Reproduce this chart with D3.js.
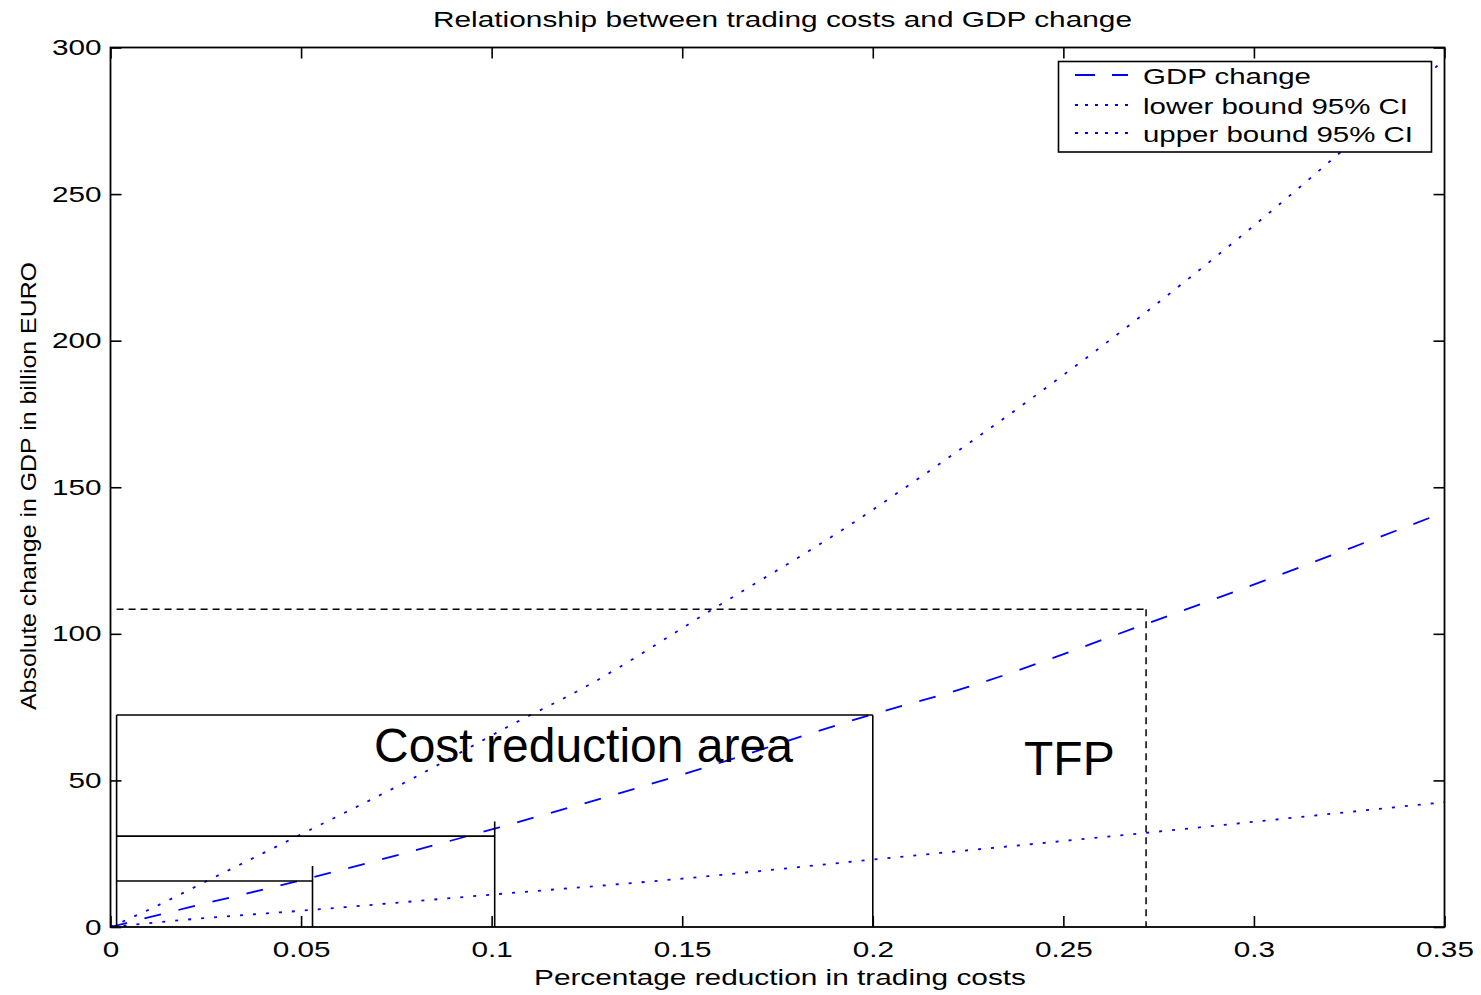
<!DOCTYPE html>
<html><head><meta charset="utf-8">
<script src="https://cdn.jsdelivr.net/npm/d3@7"></script>
<style>body{margin:0;background:#fff} svg{display:block} text{font-family:"Liberation Sans",Arial,Helvetica,sans-serif}</style>
</head><body><svg id="c" width="1481" height="995"></svg>
<script>
// ---- data ----
const titleText = "Relationship between trading costs and GDP change";
const xLabelText = "Percentage reduction  in trading costs";
const yLabelText = "Absolute change in GDP in billion EURO";
const xTicks = [0, 0.05, 0.1, 0.15, 0.2, 0.25, 0.3, 0.35];
const xTickLabels = ["0", "0.05", "0.1", "0.15", "0.2", "0.25", "0.3", "0.35"];
const yTicks = [0, 50, 100, 150, 200, 250, 300];
const yTickLabels = ["0", "50", "100", "150", "200", "250", "300"];
const seriesNames = ["GDP change", "lower bound 95% CI", "upper bound 95% CI"];
const gdpX = [0, 0.02, 0.048, 0.102, 0.15, 0.1993, 0.2248, 0.2694, 0.2868, 0.35];
const gdpY = [0, 6.5, 15.3, 34, 52, 72.3, 81.8, 102.3, 110.5, 141.5];
const lowerX = [0, 0.0216, 0.0496, 0.0987, 0.15, 0.2, 0.2707, 0.312, 0.35];
const lowerY = [0, 2.7, 5.5, 10.9, 16.5, 23, 32, 37.5, 42.6];
const upperX = [0, 0.0094, 0.0273, 0.0517, 0.079, 0.106, 0.124, 0.158, 0.195, 0.212, 0.27, 0.318, 0.35];
const upperY = [0, 5.5, 17, 32.7, 50.5, 69.5, 81.5, 108.4, 138, 153, 208, 259, 296];
// annotation boxes (data units)
const areaLeft = 0.0016;
const boxRight = [0.053, 0.1008, 0.2];
const boxTop = [15.7, 31, 72.3];
const stemTop = [20.8, 36, 72.3];
const tfpX = 0.2717;
const tfpY = 108.4;
const annotationLabels = ["Cost reduction area", "TFP"];

// ---- chart ----
const svg = d3.select("#c");
const x = d3.scaleLinear().domain([0, 0.35]).range([110.5, 1444.5]);
const y = d3.scaleLinear().domain([0, 300]).range([927, 47.5]);
const SX = 1.35;
const FONT = "'Liberation Sans',Arial,Helvetica,sans-serif";

svg.append("defs").append("clipPath").attr("id", "plotclip")
  .append("rect").attr("x", x(0)).attr("y", y(300)).attr("width", x(0.35) - x(0)).attr("height", y(0) - y(300));

const series = [
  {xs: gdpX, ys: gdpY, dash: "17,18", ldash: "20,17"},
  {xs: lowerX, ys: lowerY, dash: "3,10", ldash: "3,7"},
  {xs: upperX, ys: upperY, dash: "3,10", ldash: "3,7"}
];
const line = d3.line().x(d => x(d[0])).y(d => y(d[1])).curve(d3.curveMonotoneX);
const gLines = svg.append("g").attr("clip-path", "url(#plotclip)");
series.forEach(s => {
  gLines.append("path")
    .attr("d", line(s.xs.map((v, i) => [v, s.ys[i]])))
    .attr("fill", "none").attr("stroke", "#0000ff").attr("stroke-width", 1.8)
    .attr("stroke-dasharray", s.dash);
});

// annotations
const gA = svg.append("g").attr("stroke", "#000").attr("stroke-width", 1.6).attr("fill", "none");
boxRight.forEach((r, i) => {
  gA.append("line").attr("x1", x(areaLeft)).attr("x2", x(r)).attr("y1", y(boxTop[i])).attr("y2", y(boxTop[i]));
  gA.append("line").attr("x1", x(r)).attr("x2", x(r)).attr("y1", y(0)).attr("y2", y(stemTop[i]));
});
gA.append("line").attr("x1", x(areaLeft)).attr("x2", x(areaLeft)).attr("y1", y(0)).attr("y2", y(d3.max(boxTop)));
gA.append("line").attr("x1", x(areaLeft)).attr("x2", x(tfpX)).attr("y1", y(tfpY)).attr("y2", y(tfpY))
  .attr("stroke-dasharray", "7,5").attr("stroke-width", 1.5);
gA.append("line").attr("x1", x(tfpX)).attr("x2", x(tfpX)).attr("y1", y(tfpY)).attr("y2", y(0))
  .attr("stroke-dasharray", "7,5").attr("stroke-width", 1.5);

svg.append("text").attr("x", 374).attr("y", 762).attr("font-size", 48).attr("fill", "#000")
  .text(annotationLabels[0]);
svg.append("text").attr("x", 1024).attr("y", 775).attr("font-size", 48).attr("fill", "#000")
  .text(annotationLabels[1]);

// axes
function styleAxis(g) {
  g.attr("font-size", 22).attr("font-family", FONT).attr("color", "#000");
  g.select(".domain").remove();
  g.selectAll(".tick line").attr("stroke-width", 1.6);
}
const gB = svg.append("g").attr("transform", `translate(0,${y(0)})`)
  .call(d3.axisBottom(x).tickValues(xTicks).tickFormat((d, i) => xTickLabels[i]).tickSizeInner(-11).tickSizeOuter(0));
styleAxis(gB);
gB.selectAll(".tick text").attr("y", 14.5).attr("dy", "0.71em").attr("transform", `scale(${SX},1)`);

const gL = svg.append("g").attr("transform", `translate(${x(0)},0)`)
  .call(d3.axisLeft(y).tickValues(yTicks).tickFormat((d, i) => yTickLabels[i]).tickSizeInner(-11).tickSizeOuter(0));
styleAxis(gL);
gL.selectAll(".tick text").attr("x", -9 / SX).attr("transform", `scale(${SX},1)`);

const gT = svg.append("g").attr("transform", `translate(0,${y(300)})`)
  .call(d3.axisTop(x).tickValues(xTicks).tickFormat("").tickSizeInner(-11).tickSizeOuter(0));
styleAxis(gT);
const gR = svg.append("g").attr("transform", `translate(${x(0.35)},0)`)
  .call(d3.axisRight(y).tickValues(yTicks).tickFormat("").tickSizeInner(-11).tickSizeOuter(0));
styleAxis(gR);

svg.append("rect").attr("x", x(0)).attr("y", y(300)).attr("width", x(0.35) - x(0)).attr("height", y(0) - y(300))
  .attr("fill", "none").attr("stroke", "#000").attr("stroke-width", 1.8);

// titles
svg.append("text").attr("x", 782.5).attr("y", 27).attr("text-anchor", "middle").attr("font-size", 22)
  .attr("textLength", 699).attr("lengthAdjust", "spacingAndGlyphs").text(titleText);
svg.append("text").attr("x", 780).attr("y", 985).attr("text-anchor", "middle").attr("font-size", 22)
  .attr("textLength", 492).attr("lengthAdjust", "spacingAndGlyphs").text(xLabelText);
svg.append("text").attr("transform", "translate(36,486) rotate(-90)").attr("text-anchor", "middle").attr("font-size", 22)
  .attr("textLength", 448).attr("lengthAdjust", "spacingAndGlyphs").text(yLabelText);

// legend
const lg = svg.append("g");
lg.append("rect").attr("x", 1058.5).attr("y", 61.5).attr("width", 373).attr("height", 90.5)
  .attr("fill", "#fff").attr("stroke", "#000").attr("stroke-width", 1.6);
const legendRowY = [75, 105, 133];
const legendTextLen = [168, 265, 270];
seriesNames.forEach((n, i) => {
  lg.append("line").attr("x1", 1075).attr("x2", 1128).attr("y1", legendRowY[i]).attr("y2", legendRowY[i])
    .attr("stroke", "#0000ff").attr("stroke-width", 1.8).attr("stroke-dasharray", series[i].ldash);
  lg.append("text").attr("x", 1143).attr("y", legendRowY[i] + 9).attr("font-size", 22)
    .attr("textLength", legendTextLen[i]).attr("lengthAdjust", "spacingAndGlyphs").text(n);
});
</script></body></html>
